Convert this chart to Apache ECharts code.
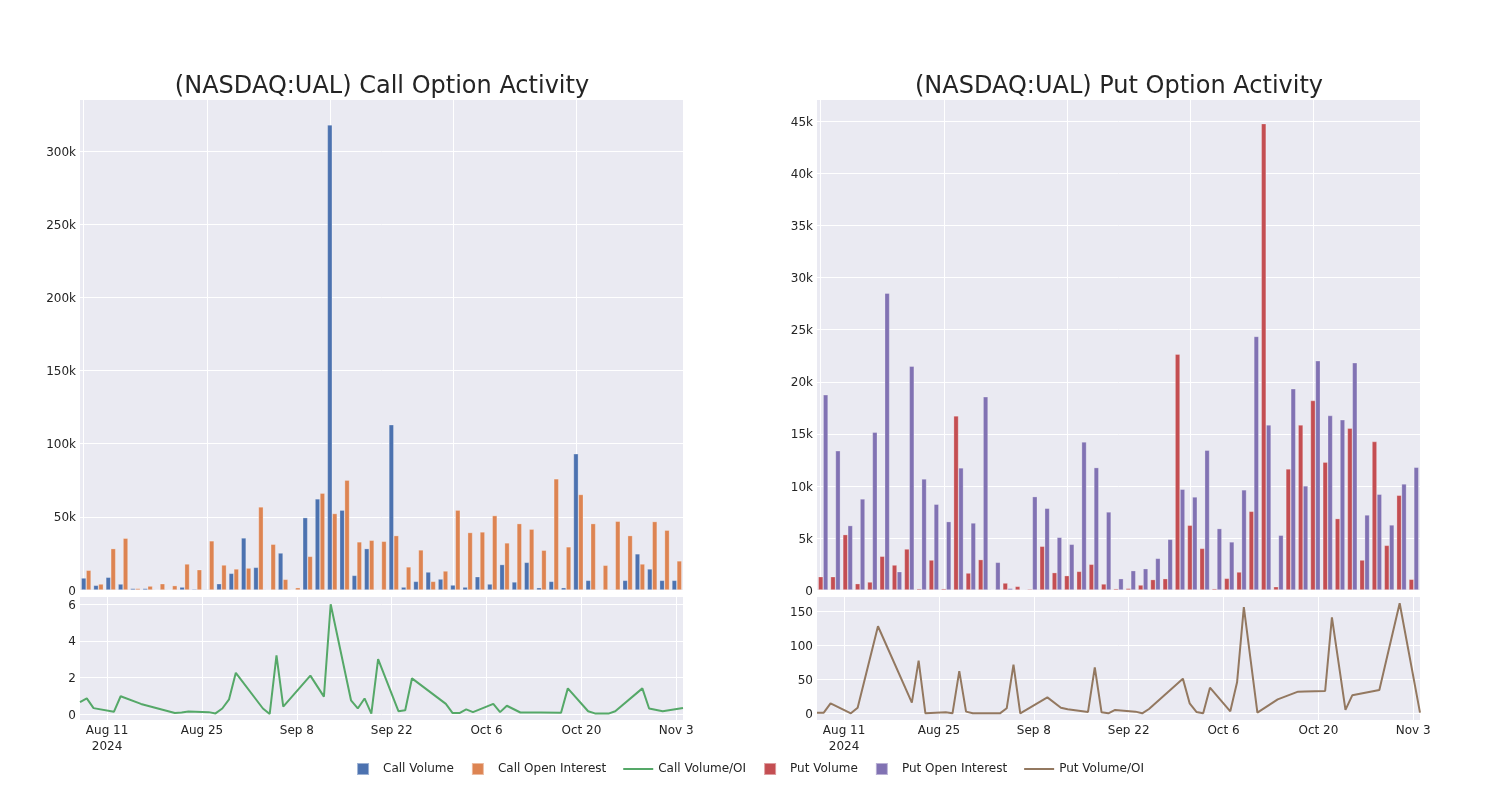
<!DOCTYPE html>
<html>
<head>
<meta charset="utf-8">
<script src="https://cdn.jsdelivr.net/npm/echarts@6/dist/echarts.min.js"></script>
<style>
html,body{margin:0;padding:0;background:#fff;}
#chart{width:1500px;height:800px;}
</style>
</head>
<body>
<div id="chart"></div>
<script>
const dates = ['2024-08-07','2024-08-08','2024-08-09','2024-08-12','2024-08-13','2024-08-16','2024-08-21','2024-08-22','2024-08-23','2024-08-26','2024-08-27','2024-08-28','2024-08-29','2024-08-30','2024-09-03','2024-09-04','2024-09-05','2024-09-06','2024-09-10','2024-09-12','2024-09-13','2024-09-16','2024-09-17','2024-09-18','2024-09-19','2024-09-20','2024-09-23','2024-09-24','2024-09-25','2024-09-30','2024-10-01','2024-10-02','2024-10-03','2024-10-04','2024-10-07','2024-10-08','2024-10-09','2024-10-11','2024-10-14','2024-10-17','2024-10-18','2024-10-21','2024-10-22','2024-10-24','2024-10-25','2024-10-29','2024-10-30','2024-11-01','2024-11-04'];

const callVolume = [8200,3200,8700,4100,1100,1100,200,100,2000,700,500,4300,11400,35600,15500,50,25300,200,49500,62300,318000,54600,10000,28300,100,113000,2000,5900,12300,7500,3400,2000,9100,4100,17400,5500,18900,1600,5900,1600,93100,6600,100,500,6600,24700,14400,6600,6600];
const callOI = [13500,4100,28300,35400,1100,2700,4300,3000,17800,13900,33600,17100,14400,15000,56800,31300,7300,1600,23000,66200,52300,75100,32900,34000,33300,37200,15800,27400,5900,13000,54600,39300,39700,50900,32200,45400,41600,27200,76000,29500,65300,45400,16900,47000,37200,17800,46800,40900,19900];
const callRatio = [0.65,0.85,0.32,0.12,0.97,0.55,0.05,0.08,0.13,0.1,0.03,0.3,0.8,2.25,0.3,0.0,3.2,0.4,2.1,0.95,6.0,0.75,0.3,0.85,0.02,3.0,0.15,0.2,1.95,0.55,0.05,0.05,0.25,0.1,0.55,0.1,0.45,0.08,0.08,0.07,1.4,0.15,0.03,0.02,0.15,1.4,0.3,0.15,0.33];

const putVolume = [1280,1280,5320,610,770,3240,2400,3940,130,2880,130,16730,1630,2920,60,670,350,100,4200,1670,1380,1790,2470,580,130,160,480,1000,1090,22660,6220,4000,130,1120,1730,7560,44800,320,11630,15860,18200,12280,6860,15540,2880,14260,4290,9100,1030];
const putOI = [18750,13370,6190,8750,15160,28520,1760,21500,10670,8240,6570,11730,6440,18560,2660,160,0,8970,7850,5060,4390,14230,11760,7500,1090,1860,2050,3040,4870,9680,8940,13430,5900,4620,9620,24360,15860,5260,19330,10000,22020,16760,16350,21830,7210,9200,6250,10190,11790];
const putRatio = [1,1,14.7,0,8.3,128,15.7,77.5,0,1.5,0,62,2.5,0,0,7.4,71.6,0,23.5,8.3,6,2,67.6,1.5,0,5,2.5,0,6.4,51,14.7,2,0,37.7,3,45.6,156,1,20.6,31.9,32.2,32.8,141,5,26.5,34.3,77,161.8,1];

const xTickDates = ['2024-08-11','2024-08-25','2024-09-08','2024-09-22','2024-10-06','2024-10-20','2024-11-03'];
const callYTicks = [0,50000,100000,150000,200000,250000,300000];
const callRatioTicks = [0,2,4,6];
const putYTicks = [0,5000,10000,15000,20000,25000,30000,35000,40000,45000];
const putRatioTicks = [0,50,100,150];
const titles = ['(NASDAQ:UAL) Call Option Activity','(NASDAQ:UAL) Put Option Activity'];

const FONT = 'DejaVu Sans';
const TXT = '#242424';
const BG = '#EAEAF2';
const C = {cv:'#4C72B0', coi:'#DD8452', cr:'#55A868', pv:'#C44E52', poi:'#8172B3', pr:'#937860'};

const ts = d => Date.parse(d);
const MON = ['Jan','Feb','Mar','Apr','May','Jun','Jul','Aug','Sep','Oct','Nov','Dec'];
function fmtDate(v){
  const d = new Date(v);
  const s = MON[d.getUTCMonth()] + ' ' + d.getUTCDate();
  return Math.abs(v - ts(xTickDates[0])) < 1000 ? s + '\n' + d.getUTCFullYear() : s;
}
function kfmt(v){ return '{t|' + (v === 0 ? '0' : (v/1000) + 'k') + '}'; }
function nfmt(v){ return '{t|' + String(v) + '}'; }

const gridMarks = dates.map((d,i)=>i).filter(i => i % 10 === 0).map(i => ({xAxis: i}));

const grids = [
  {left:80, top:100, width:603, height:490},
  {left:80, top:597, width:603, height:123},
  {left:817, top:100, width:603, height:490},
  {left:817, top:597, width:603, height:123}
].map(g => Object.assign({show:true, backgroundColor:BG, borderWidth:0, containLabel:false}, g));

function catAxis(gi){
  return {type:'category', gridIndex:gi, data:dates, boundaryGap:true,
    axisLine:{show:false}, axisTick:{show:false}, axisLabel:{show:false}, splitLine:{show:false}};
}
function timeAxis(gi){
  const tv = xTickDates.map(ts);
  return {type:'value', gridIndex:gi, min:ts(dates[0]), max:ts(dates[dates.length-1]),
    axisLine:{show:false},
    axisTick:{show:false, customValues:tv},
    axisLabel:{customValues:tv, formatter:fmtDate, color:TXT, fontFamily:FONT, fontSize:12, margin:3, lineHeight:16},
    splitLine:{show:true, lineStyle:{color:'#fff', width:1}}};
}
function valAxis(gi, min, max, ticks, fmt){
  return {type:'value', gridIndex:gi, min:min, max:max,
    axisLine:{show:false},
    axisTick:{show:false, customValues:ticks},
    axisLabel:{customValues:ticks, formatter:fmt, color:TXT, fontFamily:FONT, fontSize:12, margin:4,
      rich:{t:{fontFamily:FONT, fontSize:12, color:TXT, padding:[3,0,0,0]}}},
    splitLine:{show:true, lineStyle:{color:'#fff', width:1}}};
}

function barSeries(name, data, color, xi, yi, withMarks){
  const s = {name:name, type:'bar', xAxisIndex:xi, yAxisIndex:yi, data:data,
    barCategoryGap:'20%', barGap:'0%', z:3,
    itemStyle:{color:color, borderColor:'rgba(255,255,255,0.45)', borderWidth:0.6}};
  if (withMarks){
    s.markLine = {silent:true, symbol:'none', z:1, label:{show:false},
      lineStyle:{color:'#fff', width:1, type:'solid'}, data:gridMarks, animation:false};
  }
  return s;
}
function lineSeries(name, vals, color, xi, yi){
  return {name:name, type:'line', xAxisIndex:xi, yAxisIndex:yi,
    data: dates.map((d,i)=>[ts(d), vals[i]]), symbol:'none', z:3,
    lineStyle:{color:color, width:2}, itemStyle:{color:color}};
}

const sq = 'path://M0,0L10,0L10,10L0,10Z';
const ln = 'path://M0,0L30,0L30,2L0,2Z';

const option = {
  animation:false,
  backgroundColor:'#fff',
  textStyle:{fontFamily:FONT},
  title: titles.map((t,i)=>({text:t, left: i===0 ? 377 : 1114, top:70, textAlign:'center',
    textStyle:{fontFamily:FONT, fontSize:24, fontWeight:'normal', color:TXT}})),
  legend:{
    left:'center', top:757, itemWidth:30, itemHeight:12, itemGap:17, symbolKeepAspect:true,
    textStyle:{fontFamily:FONT, fontSize:12, color:TXT},
    data:[
      {name:'Call Volume', icon:sq},
      {name:'Call Open Interest', icon:sq},
      {name:'Call Volume/OI', icon:ln},
      {name:'Put Volume', icon:sq},
      {name:'Put Open Interest', icon:sq},
      {name:'Put Volume/OI', icon:ln}
    ]
  },
  grid: grids,
  xAxis:[catAxis(0), timeAxis(1), catAxis(2), timeAxis(3)],
  yAxis:[
    valAxis(0, 0, 335000, callYTicks, kfmt),
    valAxis(1, -0.33, 6.4, callRatioTicks, nfmt),
    valAxis(2, 0, 47070, putYTicks, kfmt),
    valAxis(3, -9.8, 171, putRatioTicks, nfmt)
  ],
  series:[
    barSeries('Call Volume', callVolume, C.cv, 0, 0, true),
    barSeries('Call Open Interest', callOI, C.coi, 0, 0, false),
    lineSeries('Call Volume/OI', callRatio, C.cr, 1, 1),
    barSeries('Put Volume', putVolume, C.pv, 2, 2, true),
    barSeries('Put Open Interest', putOI, C.poi, 2, 2, false),
    lineSeries('Put Volume/OI', putRatio, C.pr, 3, 3)
  ]
};

const chart = echarts.init(document.getElementById('chart'), null, {renderer:'canvas'});
chart.setOption(option);
</script>
</body>
</html>
